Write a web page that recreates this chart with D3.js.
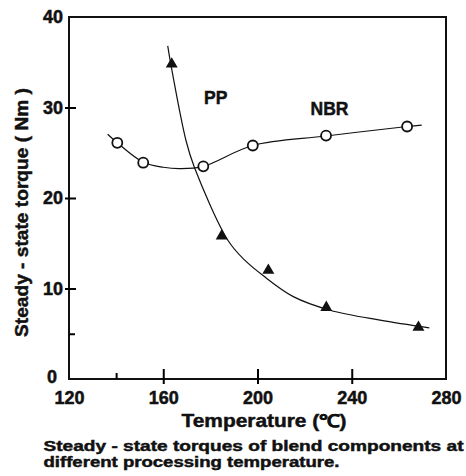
<!DOCTYPE html>
<html><head><meta charset="utf-8">
<script src="https://cdn.jsdelivr.net/npm/d3@7"></script>
<style>body{margin:0;background:#fff}text{font-family:"Liberation Sans",Arial,Helvetica,sans-serif;font-weight:bold;fill:#111;stroke:#111;stroke-width:0.45px}</style>
</head><body>
<svg id="c" width="466" height="476"></svg>
<script>
// Data
const xTicks = [120, 160, 200, 240, 280];
const yTicks = [0, 10, 20, 30, 40];
// NBR (open circles)
const nbrT = [140.5, 151.5, 177, 198, 229.1, 263.5];
const nbrV = [26.1, 23.9, 23.5, 25.8, 26.9, 27.9];
// NBR fitted curve samples
const nbrCurveT = [136.4, 140.5, 151.5, 160, 167.1, 177, 198, 229.1, 263.5, 269.7];
const nbrCurveV = [27.05, 26.1, 23.95, 23.4, 23.25, 23.5, 25.8, 26.85, 27.9, 28.05];
// PP (filled triangles)
const ppT = [163.6, 184.8, 204.6, 229.2, 268.3];
const ppV = [34.8, 15.8, 12.0, 7.9, 5.7];
// PP fitted curve samples
const ppCurveT = [161.9, 163.2, 169.7, 173.2, 187.5, 194.7, 202.5, 215.2, 230.8, 252, 272.9];
const ppCurveV = [36.8, 34.8, 26.3, 23.4, 15.3, 13.1, 11.4, 9.1, 7.6, 6.5, 5.65];

const svg = d3.select("#c");
const x = d3.scaleLinear().domain([120, 280]).range([69, 446]);
const y = d3.scaleLinear().domain([0, 40]).range([379, 17]);

function styleLabels(sel) {
  sel.attr("font-size", 18)
    .style("font-family", "Liberation Sans, Arial, sans-serif")
    .style("font-weight", "bold").style("fill", "#111")
    .style("stroke", "#111").style("stroke-width", "0.5px");
}

// frame
svg.append("rect").attr("x", x(120)).attr("y", y(40))
  .attr("width", x(280) - x(120)).attr("height", y(0) - y(40))
  .attr("fill", "none").attr("stroke", "#111").attr("stroke-width", 2);

// x axis labels
const gx = svg.append("g").attr("transform", `translate(0,${y(0)})`)
  .call(d3.axisBottom(x).tickValues(xTicks).tickSize(0).tickPadding(12).tickFormat(d3.format("d")));
gx.select(".domain").remove();
styleLabels(gx.selectAll("text"));
// x major ticks crossing
svg.append("g").attr("transform", `translate(0,${y(0)})`)
  .call(d3.axisBottom(x).tickValues([160, 200, 240]).tickSizeInner(5).tickSizeOuter(0).tickFormat(""))
  .call(g => g.select(".domain").remove())
  .selectAll("line").attr("stroke-width", 2).attr("y1", -10);
// x minor tick
svg.append("g").attr("transform", `translate(0,${y(0)})`)
  .call(d3.axisTop(x).tickValues([140]).tickSizeInner(6).tickSizeOuter(0).tickFormat(""))
  .call(g => g.select(".domain").remove())
  .selectAll("line").attr("stroke-width", 2);

// y axis labels
const gy = svg.append("g").attr("transform", `translate(${x(120)},0)`)
  .call(d3.axisLeft(y).tickValues(yTicks).tickSize(0).tickPadding(6).tickFormat(d3.format("d")));
gy.select(".domain").remove();
styleLabels(gy.selectAll("text"));
gy.selectAll(".tick").filter(d => d === 0).select("text").attr("x", -12).attr("dy", "0.2em");
// y major ticks crossing
svg.append("g").attr("transform", `translate(${x(120)},0)`)
  .call(d3.axisLeft(y).tickValues([10, 20, 30]).tickSizeInner(4).tickSizeOuter(0).tickFormat(""))
  .call(g => g.select(".domain").remove())
  .selectAll("line").attr("stroke-width", 2).attr("x1", 7);
// y minor tick
svg.append("g").attr("transform", `translate(${x(120)},0)`)
  .call(d3.axisRight(y).tickValues([5]).tickSizeInner(6).tickSizeOuter(0).tickFormat(""))
  .call(g => g.select(".domain").remove())
  .selectAll("line").attr("stroke-width", 2);

// curves
const line = d3.line().x(d => x(d[0])).y(d => y(d[1])).curve(d3.curveCatmullRom.alpha(0.5));
svg.append("path").datum(d3.zip(nbrCurveT, nbrCurveV)).attr("d", line)
  .attr("fill", "none").attr("stroke", "#111").attr("stroke-width", 1.2);
svg.append("path").datum(d3.zip(ppCurveT, ppCurveV)).attr("d", line)
  .attr("fill", "none").attr("stroke", "#111").attr("stroke-width", 1.2);

// markers
svg.append("g").selectAll("circle").data(d3.zip(nbrT, nbrV)).join("circle")
  .attr("cx", d => x(d[0])).attr("cy", d => y(d[1])).attr("r", 5)
  .attr("fill", "#fff").attr("stroke", "#111").attr("stroke-width", 1.8);
const tri = d3.symbol().type(d3.symbolTriangle).size(62);
svg.append("g").selectAll("path").data(d3.zip(ppT, ppV)).join("path")
  .attr("transform", d => `translate(${x(d[0])},${y(d[1])})`).attr("d", tri).attr("fill", "#111");

// series labels
svg.append("text").attr("x", 204).attr("y", 104).attr("font-size", 17.5).text("PP");
svg.append("text").attr("x", 310.5).attr("y", 115).attr("font-size", 17.5).text("NBR");

// axis titles
svg.append("text").attr("x", 181.5).attr("y", 426.5).attr("font-size", 17.5)
  .attr("textLength", 165).attr("lengthAdjust", "spacingAndGlyphs").text("Temperature (℃)");
svg.append("text").attr("transform", "translate(28,212.5) rotate(-90)").attr("text-anchor", "middle")
  .attr("font-size", 17.5).attr("textLength", 249).attr("lengthAdjust", "spacingAndGlyphs")
  .text("Steady - state torque ( Nm )");

// caption
svg.append("text").attr("x", 43.5).attr("y", 451).attr("font-size", 14.2)
  .attr("textLength", 420).attr("lengthAdjust", "spacingAndGlyphs")
  .text("Steady - state torques of blend components at");
svg.append("text").attr("x", 43.5).attr("y", 467).attr("font-size", 14.2)
  .attr("textLength", 296).attr("lengthAdjust", "spacingAndGlyphs")
  .text("different processing temperature.");
</script>
</body></html>
